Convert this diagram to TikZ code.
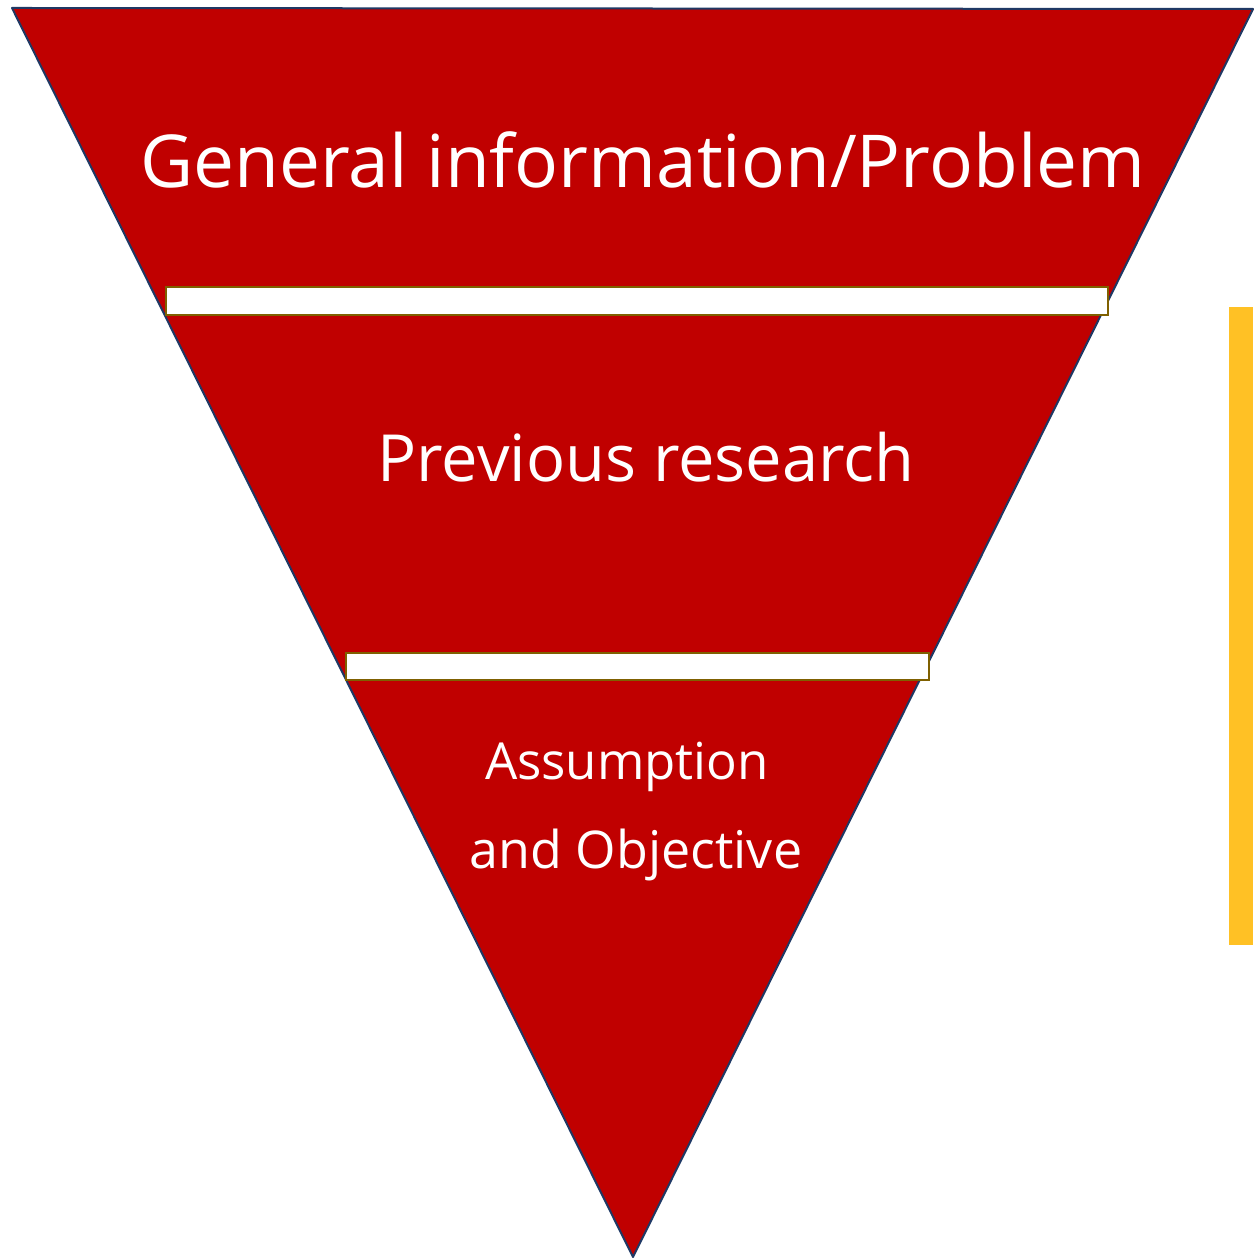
\documentclass[tikz,border=0pt]{standalone}
\usepackage{fontspec}
\setmainfont{Open Sans}
\usepackage{tikz}

\definecolor{funnelred}{HTML}{C00000}
\definecolor{funnelline}{HTML}{1F3864}
\definecolor{barline}{HTML}{7F6000}
\definecolor{sidegold}{HTML}{FFC125}

\begin{document}
\begin{tikzpicture}[x=1pt, y=1pt]

	\useasboundingbox (0,0) rectangle (1253,1258);

	\tikzset{
		label/.style={text=white, inner sep=0pt, anchor=center},
		gap/.style={draw=barline, line width=2.5pt, fill=white}
	}

	\coordinate (TL) at (12,1250);
	\coordinate (TR) at (1253,1249);
	\coordinate (A) at (633,1);

	% funnel
	\filldraw[fill=funnelred, draw=funnelline, line width=2pt,
		line join=round] (TL) -- (TR) -- (A) -- cycle;

	% separating bars
	\draw[gap] (166,943) rectangle (1108,971);
	\draw[gap] (346,578) rectangle (929,605);

	% side bar
	\fill[sidegold] (1229,313) rectangle (1253,951);

	% texts
	\node[label, font=\fontsize{73}{80}\selectfont] (gen) at (643,1098)
	{General information/Problem};
	\node[label, font=\fontsize{65}{72}\selectfont] (prev) at (646,801)
	{Previous research};
	\node[label, font=\fontsize{51}{60}\selectfont] (assm) at (627,491)
	{Assumption};
	\node[label, font=\fontsize{52}{60}\selectfont] (obj) at (636,403)
	{and Objective};

\end{tikzpicture}
\end{document}
